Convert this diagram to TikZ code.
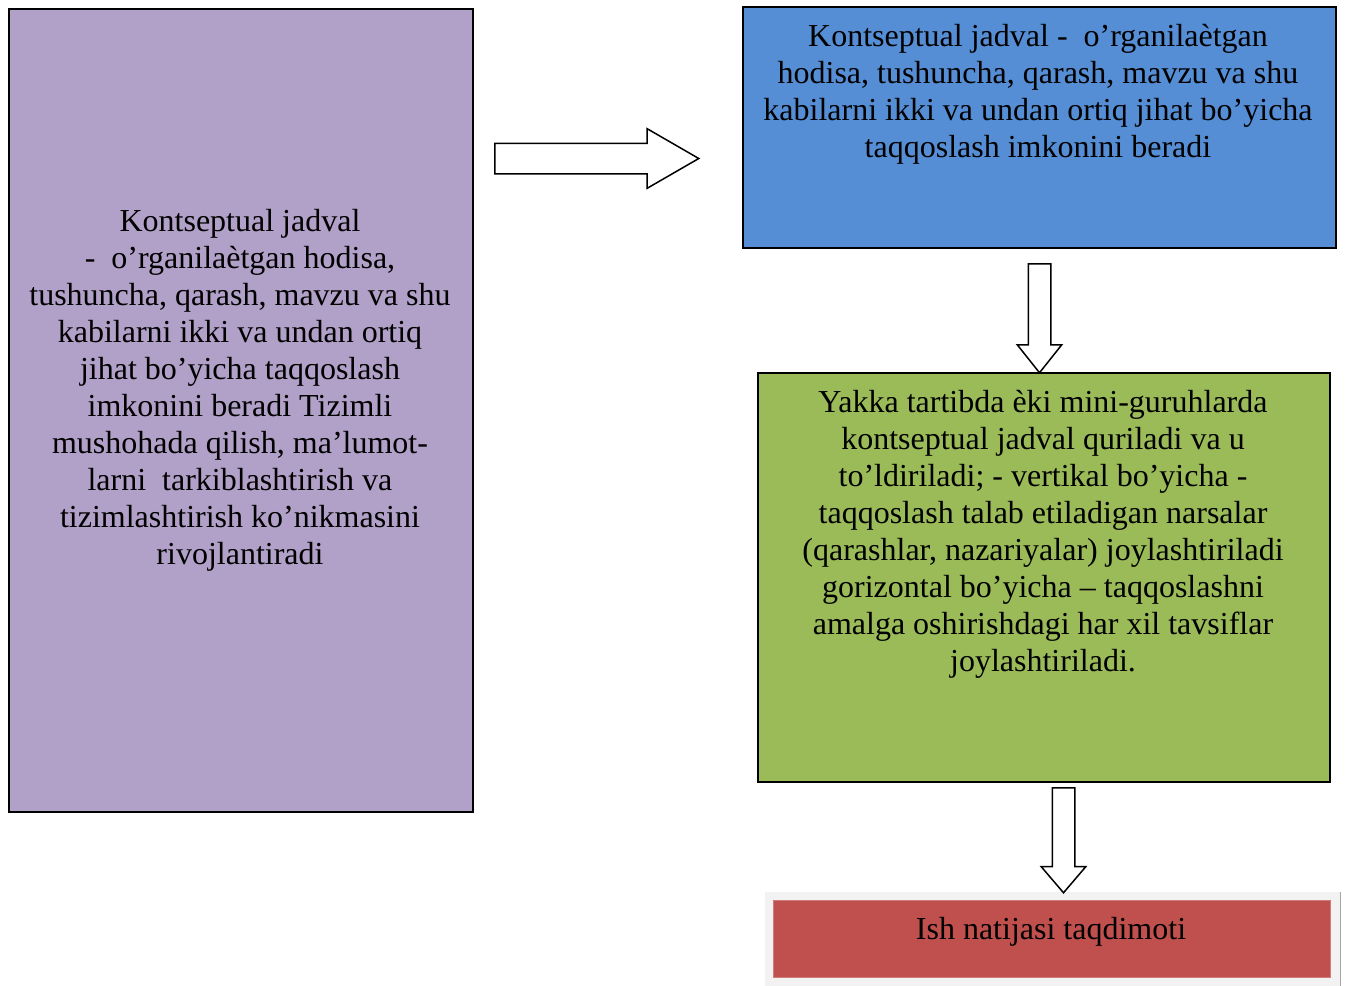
\documentclass[tikz,border=0pt]{standalone}
\usepackage{fontspec}
\setmainfont{Liberation Serif}
\usetikzlibrary{shapes.arrows}
\definecolor{lilac}{HTML}{B1A0C7}
\definecolor{skyblue}{HTML}{558ED5}
\definecolor{olivegreen}{HTML}{9BBB59}
\definecolor{brickred}{HTML}{C0504D}
\definecolor{paleframe}{HTML}{F2F2F2}
\begin{document}
\begin{tikzpicture}[x=1pt,y=-1pt,
  box/.style={draw=black, line width=1.5pt, inner sep=0pt, anchor=north west},
  txt/.style={align=center, font=\fontsize{32}{37}\selectfont, inner sep=0pt},
  blockarrow/.style={single arrow, draw=black, line width=1.5pt, fill=white,
    single arrow head indent=0pt, anchor=tail}
]
\useasboundingbox (0,0) rectangle (1346,985);

% boxes
\node[box, fill=lilac, minimum width=464pt, minimum height=803pt] (concept) at (8,8) {};
\node[box, fill=skyblue, minimum width=593pt, minimum height=241pt] (definition) at (742,6) {};
\node[box, fill=olivegreen, minimum width=572pt, minimum height=409pt] (procedure) at (757,372) {};
\node[anchor=north west, fill=paleframe, inner sep=0pt, minimum width=575pt, minimum height=95pt] (frame) at (765,892) {};
\draw[gray!70, line width=1pt] (frame.north east) -- (frame.south east);
\node[anchor=north west, fill=brickred, draw=brickred!75!white, line width=0.8pt, inner sep=0pt,
  minimum width=557pt, minimum height=77pt] (result) at (773,900) {};

% texts
\node[txt, anchor=north] (concepttext) at (240,209.5) {Kontseptual jadval\\
-\ \ o’rganilaètgan hodisa,\\
tushuncha, qarash, mavzu va shu\\
kabilarni ikki va undan ortiq\\
jihat bo’yicha taqqoslash\\
imkonini beradi Tizimli\\
mushohada qilish, ma’lumot-\\
larni\ \ tarkiblashtirish va\\
tizimlashtirish ko’nikmasini\\
rivojlantiradi};
\node[txt, anchor=north] (definitiontext) at (1038,24) {Kontseptual jadval -\ \ o’rganilaètgan\\
hodisa, tushuncha, qarash, mavzu va shu\\
kabilarni ikki va undan ortiq jihat bo’yicha\\
taqqoslash imkonini beradi};
\node[txt, anchor=north] (proceduretext) at (1043,390.5) {Yakka tartibda èki mini-guruhlarda\\
kontseptual jadval quriladi va u\\
to’ldiriladi; - vertikal bo’yicha -\\
taqqoslash talab etiladigan narsalar\\
(qarashlar, nazariyalar) joylashtiriladi\\
gorizontal bo’yicha – taqqoslashni\\
amalga oshirishdagi har xil tavsiflar\\
joylashtiriladi.};
\node[txt, anchor=base] (resulttext) at (1051,939.5) {Ish natijasi taqdimoti};

% block arrows
\node[blockarrow, inner sep=14.5pt, single arrow head extend=14.5pt,
  minimum height=204pt, single arrow tip angle=60] (toright) at (494,158.5) {};
\node[blockarrow, shape border rotate=270, inner sep=10.5pt, single arrow head extend=11pt,
  minimum height=109pt, single arrow tip angle=77] (todown) at (1039.5,263) {};
\node[blockarrow, shape border rotate=270, inner sep=10.5pt, single arrow head extend=11pt,
  minimum height=105pt, single arrow tip angle=81] (toresult) at (1063.5,787) {};
\end{tikzpicture}
\end{document}
